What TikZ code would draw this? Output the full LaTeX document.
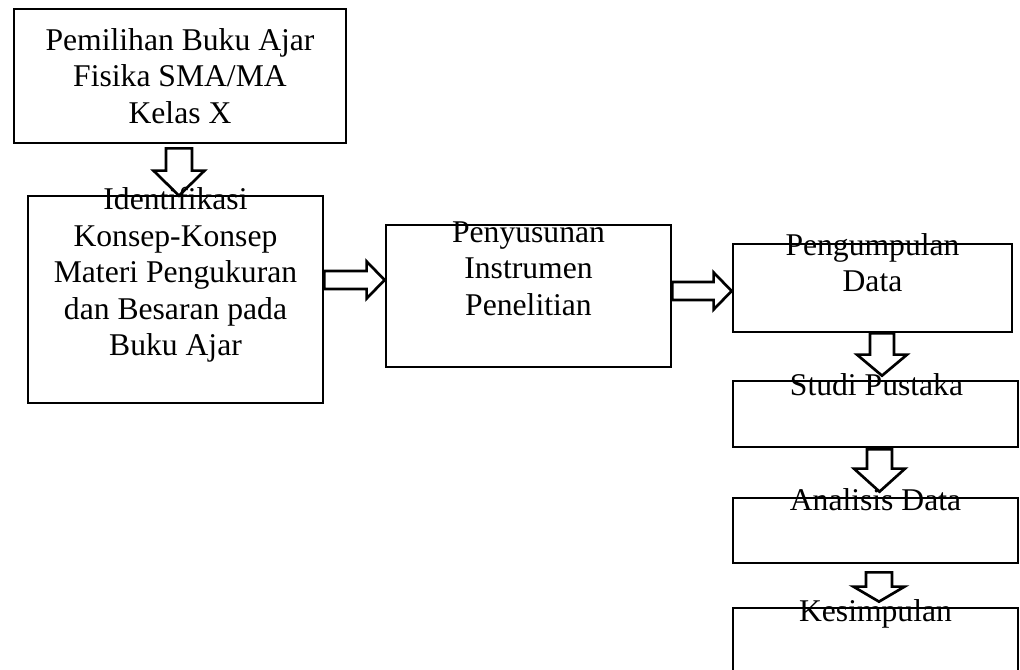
\documentclass[tikz,border=0pt]{standalone}
\usepackage{fontspec}
\setmainfont{Liberation Serif}
\usetikzlibrary{calc}

\tikzset{
  kotak/.style={draw, line width=1.9pt, inner sep=0pt},
  teks/.style={anchor=north, inner sep=0pt, align=center,
    font=\fontsize{22.5}{26}\selectfont,
    execute at begin node={\rule{0pt}{16pt}}},
  panah/.style={line width=1.9pt, line join=miter}
}

% hollow block arrow pointing down: start, tip, shaft half, head half, head length
\newcommand{\panahbawah}[5]{%
  \coordinate (pa) at (#1);
  \coordinate (pb) at (#2);
  \draw[panah] ($(pa)+(-#3,0)$) -- ($(pa)+(#3,0)$) -- ($(pa |- pb)+(#3,-#5)$)
    -- ($(pa |- pb)+(#4,-#5)$) -- (pa |- pb) -- ($(pa |- pb)+(-#4,-#5)$)
    -- ($(pa |- pb)+(-#3,-#5)$) -- cycle;}

% hollow block arrow pointing right
\newcommand{\panahkanan}[5]{%
  \coordinate (pa) at (#1);
  \coordinate (pb) at (#2);
  \draw[panah] ($(pa)+(0,-#3)$) -- ($(pa -| pb)+(-#5,-#3)$) -- ($(pa -| pb)+(-#5,-#4)$)
    -- (pa -| pb) -- ($(pa -| pb)+(-#5,#4)$) -- ($(pa -| pb)+(-#5,#3)$)
    -- ($(pa)+(0,#3)$) -- cycle;}

\begin{document}
\begin{tikzpicture}[x=0.025cm, y=-0.025cm]
    \useasboundingbox (0,0) rectangle (1020,670);
    \clip (0,0) rectangle (1020,670);

    % Boxes
    \node[kotak, minimum width=8.3cm, minimum height=3.35cm] (pilih) at (180,76) {};
    \node[kotak, minimum width=7.375cm, minimum height=5.175cm] (ident) at (175.5,299.5) {};
    \node[kotak, minimum width=7.125cm, minimum height=3.55cm] (susun) at (528.5,296) {};
    \node[kotak, minimum width=6.975cm, minimum height=2.2cm] (kumpul) at (872.5,288) {};
    \node[kotak, minimum width=7.125cm, minimum height=1.65cm] (studi) at (875.5,414) {};
    \node[kotak, minimum width=7.125cm, minimum height=1.625cm] (analisis) at (875.5,530.5) {};
    \node[kotak, minimum width=7.125cm, minimum height=2.25cm] (simpul) at (875.5,653) {};

    % Texts
    \node[teks] (tpilih) at ($(pilih.north)+(0,20.5)$) {Pemilihan Buku Ajar\\Fisika SMA/MA\\Kelas X};
    \node[teks] (tident) at ($(ident.north)+(0,-7.5)$) {Identifikasi\\Konsep-Konsep\\Materi Pengukuran\\dan Besaran pada\\Buku Ajar};
    \node[teks] (tsusun) at ($(susun.north)+(0,-2.5)$) {Penyusunan\\Instrumen\\Penelitian};
    \node[teks] (tkumpul) at ($(kumpul.north)+(0,-9.5)$) {Pengumpulan\\Data};
    \node[teks] (tstudi) at ($(studi.north)+(1,-7)$) {Studi Pustaka};
    \node[teks] (tanalisis) at ($(analisis.north)+(0,-8.5)$) {Analisis Data};
    \node[teks] (tsimpul) at ($(simpul.north)+(0,-8)$) {Kesimpulan};

    % Arrows
    \panahbawah{$(pilih.south)+(-1,4)$}{$(ident.north)+(0,1)$}{13}{25.5}{25}
    \panahkanan{$(ident.east)+(0,-19.5)$}{susun.west}{9}{18.5}{18}
    \panahkanan{$(susun.east)+(0,-5)$}{kumpul.west}{9}{18.5}{18}
    \panahbawah{$(kumpul.south)+(9.5,0)$}{$(studi.north)+(0,-4)$}{12}{25}{21}
    \panahbawah{$(studi.south)+(4,1)$}{$(analisis.north)+(0,-5)$}{12.5}{25.5}{23}
    \panahbawah{$(analisis.south)+(3.5,8)$}{$(simpul.north)+(0,-5)$}{13}{25.5}{15}
\end{tikzpicture}
\end{document}
